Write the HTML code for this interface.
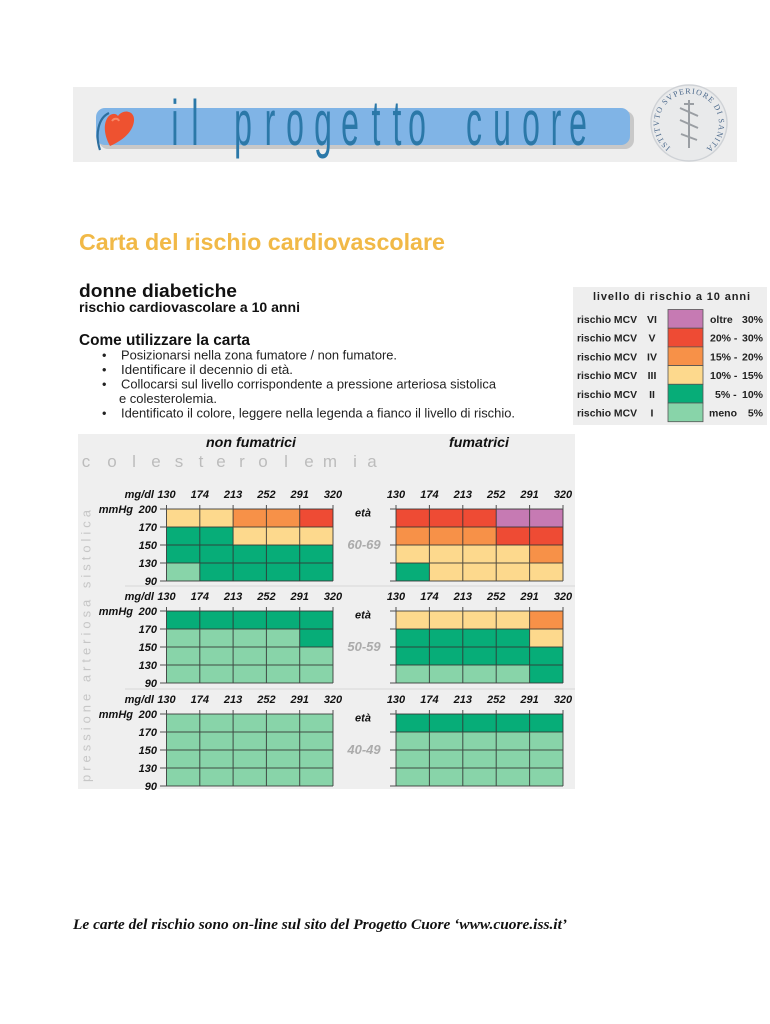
<!DOCTYPE html>
<html>
<head>
<meta charset="utf-8">
<style>
  html,body{margin:0;padding:0;background:#ffffff;}
  body{width:770px;height:1024px;overflow:hidden;}
  svg{display:block;}
  .sans{font-family:"Liberation Sans","DejaVu Sans",sans-serif;}
  .serif{font-family:"Liberation Serif","DejaVu Serif",serif;}
  .lab{font-family:"Liberation Sans",sans-serif;font-weight:bold;font-style:italic;font-size:11px;fill:#111;}
</style>
</head>
<body>
<svg width="770" height="1024" viewBox="0 0 770 1024" xmlns="http://www.w3.org/2000/svg">
  <!-- ============ BANNER ============ -->
  <rect x="73" y="87" width="664" height="75" fill="#eeeeee"/>
  <rect x="99" y="111" width="535" height="38" rx="9" fill="#a9a9a9" opacity="0.55"/>
  <rect x="96" y="108" width="534" height="37" rx="9" fill="#80b4e6"/>
  <!-- heart -->
  <path d="M109 113 C98 118 95 135 100 150" stroke="#2d6f9f" stroke-width="2.2" fill="none"/>
  <path d="M118 116 C123 109 135 110 134 121 C133 131 124 140 110 146 C104 135 103 124 108 117 C111 113 116 113 118 116 Z" fill="#ee5230"/>
  <path d="M112 121 C114 118 118 118 119 121" stroke="#f78a6a" stroke-width="2" fill="none"/>
  <!-- logo text -->
  <g class="sans" font-size="64" fill="#2b78a8" text-anchor="middle">
    <text transform="scale(0.5,1)" y="145" x="350 390 486 540 590 646 700 752 794 834 948 1004 1062 1112 1156">ilprogettocuore</text>
  </g>
  <!-- seal -->
  <circle cx="689" cy="123" r="38" fill="#e9eaeb" stroke="#cfd2d6" stroke-width="1.5"/>
  <path id="sealarc" d="M670.6 147.3 A30 30 0 1 1 707.4 147.3" fill="none"/>
  <text class="serif" font-size="8" fill="#4d6a8c"><textPath href="#sealarc" textLength="150" lengthAdjust="spacing">ISTITVTO SVPERIORE DI SANITA</textPath></text>
  <path d="M689 100 V148 M680 108 L698 116 M680 120 L698 128 M681 134 L697 140 M684 104 L694 104" stroke="#9a9ea3" stroke-width="2" fill="none"/>

  <!-- ============ TITLES ============ -->
  <text class="sans" x="79" y="250" font-size="23" font-weight="bold" fill="#f1b947" textLength="366" lengthAdjust="spacingAndGlyphs">Carta del rischio cardiovascolare</text>
  <text class="sans" x="79" y="297" font-size="18" font-weight="bold" fill="#111" textLength="158" lengthAdjust="spacingAndGlyphs">donne diabetiche</text>
  <text class="sans" x="79" y="312" font-size="14" font-weight="bold" fill="#111" textLength="221" lengthAdjust="spacingAndGlyphs">rischio cardiovascolare a 10 anni</text>
  <text class="sans" x="79" y="345" font-size="15.4" font-weight="bold" fill="#111" textLength="171" lengthAdjust="spacingAndGlyphs">Come utilizzare la carta</text>

  <g class="sans" font-size="12.7" fill="#222">
    <text x="102" y="359.5">•</text>
    <text x="121" y="359.5" textLength="276" lengthAdjust="spacingAndGlyphs">Posizionarsi nella zona fumatore / non fumatore.</text>
    <text x="102" y="374">•</text>
    <text x="121" y="374" textLength="172" lengthAdjust="spacingAndGlyphs">Identificare il decennio di età.</text>
    <text x="102" y="388.5">•</text>
    <text x="121" y="388.5" textLength="375" lengthAdjust="spacingAndGlyphs">Collocarsi sul livello corrispondente a pressione arteriosa sistolica</text>
    <text x="119" y="403" textLength="98" lengthAdjust="spacingAndGlyphs">e colesterolemia.</text>
    <text x="102" y="417.5">•</text>
    <text x="121" y="417.5" textLength="394" lengthAdjust="spacingAndGlyphs">Identificato il colore, leggere nella legenda a fianco il livello di rischio.</text>
  </g>

  <!-- ============ LEGEND ============ -->
  <rect x="573" y="287" width="194" height="138" fill="#eeeeee"/>
  <text class="sans" x="593" y="300" font-size="11" font-weight="bold" fill="#222" textLength="157" lengthAdjust="spacing">livello di rischio a 10 anni</text>
  <g stroke="#555" stroke-width="0.8">
    <rect x="668" y="309.5" width="35" height="18.7" fill="#c67ab3"/>
    <rect x="668" y="328.2" width="35" height="18.7" fill="#ee4b34"/>
    <rect x="668" y="346.9" width="35" height="18.7" fill="#f79148"/>
    <rect x="668" y="365.6" width="35" height="18.7" fill="#fdd98d"/>
    <rect x="668" y="384.3" width="35" height="18.7" fill="#07ad78"/>
    <rect x="668" y="403" width="35" height="18.7" fill="#88d4a9"/>
  </g>
  <g class="sans" font-size="10.5" font-weight="bold" fill="#222">
    <text x="577" y="323" textLength="60" lengthAdjust="spacingAndGlyphs">rischio MCV</text>
    <text x="577" y="341.7" textLength="60" lengthAdjust="spacingAndGlyphs">rischio MCV</text>
    <text x="577" y="360.4" textLength="60" lengthAdjust="spacingAndGlyphs">rischio MCV</text>
    <text x="577" y="379.1" textLength="60" lengthAdjust="spacingAndGlyphs">rischio MCV</text>
    <text x="577" y="397.8" textLength="60" lengthAdjust="spacingAndGlyphs">rischio MCV</text>
    <text x="577" y="416.5" textLength="60" lengthAdjust="spacingAndGlyphs">rischio MCV</text>
    <g text-anchor="middle">
      <text x="652" y="323">VI</text>
      <text x="652" y="341.7">V</text>
      <text x="652" y="360.4">IV</text>
      <text x="652" y="379.1">III</text>
      <text x="652" y="397.8">II</text>
      <text x="652" y="416.5">I</text>
    </g>
    <text x="710" y="323">oltre</text>
    <text x="710" y="341.7">20% -</text>
    <text x="710" y="360.4">15% -</text>
    <text x="710" y="379.1">10% -</text>
    <text x="715" y="397.8">5% -</text>
    <text x="709" y="416.5">meno</text>
    <g text-anchor="end">
      <text x="763" y="323">30%</text>
      <text x="763" y="341.7">30%</text>
      <text x="763" y="360.4">20%</text>
      <text x="763" y="379.1">15%</text>
      <text x="763" y="397.8">10%</text>
      <text x="763" y="416.5">5%</text>
    </g>
  </g>

  <!-- ============ CHART PANEL ============ -->
  <rect x="78" y="434" width="497" height="355" fill="#efefef"/>
  <text class="sans" x="206" y="447" font-size="14" font-weight="bold" font-style="italic" fill="#111" textLength="90" lengthAdjust="spacingAndGlyphs">non fumatrici</text>
  <text class="sans" x="449" y="447" font-size="14" font-weight="bold" font-style="italic" fill="#111" textLength="60" lengthAdjust="spacingAndGlyphs">fumatrici</text>
  <text class="sans" y="467" font-size="17" fill="#bcbcbc" text-anchor="middle" x="86 112 134 156 179 201 221 242 263 286 309 330 355 372">colesterolemia</text>
  <text class="sans" font-size="13" fill="#c6c6c6" transform="translate(90.5,782) rotate(-90)" x="0" y="0" textLength="272" lengthAdjust="spacing">pressione arteriosa sistolica</text>

  <!-- separators -->
  <line x1="125" y1="586" x2="575" y2="586" stroke="#d7d7d7" stroke-width="1"/>
  <line x1="125" y1="689" x2="575" y2="689" stroke="#d7d7d7" stroke-width="1"/>

  <!-- ===== Block 60-69 (T=509) ===== -->
  <g>
    <text class="lab" x="154" y="498" text-anchor="end">mg/dl</text>
    <g class="lab" text-anchor="middle">
      <text x="166.5" y="498">130</text><text x="199.8" y="498">174</text><text x="233.1" y="498">213</text><text x="266.4" y="498">252</text><text x="299.7" y="498">291</text><text x="333" y="498">320</text>
      <text x="396" y="498">130</text><text x="429.4" y="498">174</text><text x="462.8" y="498">213</text><text x="496.2" y="498">252</text><text x="529.6" y="498">291</text><text x="563" y="498">320</text>
    </g>
    <text class="lab" x="133" y="513" text-anchor="end">mmHg</text>
    <g class="lab" text-anchor="end">
      <text x="157" y="513">200</text><text x="157" y="531">170</text><text x="157" y="549">150</text><text x="157" y="567">130</text><text x="157" y="585">90</text>
    </g>
    <text class="lab" x="363" y="516.5" text-anchor="middle" font-size="10">età</text>
    <text class="sans" x="364" y="549" text-anchor="middle" font-size="13" font-weight="bold" font-style="italic" fill="#ababab">60-69</text>
  </g>
  <!-- left grid 60-69 -->
  <g transform="translate(166.5,509)">
    <rect x="0" y="0" width="33.3" height="18" fill="#fdd98d"/><rect x="33.3" y="0" width="33.3" height="18" fill="#fdd98d"/><rect x="66.6" y="0" width="33.3" height="18" fill="#f79148"/><rect x="99.9" y="0" width="33.3" height="18" fill="#f79148"/><rect x="133.2" y="0" width="33.3" height="18" fill="#ee4b34"/>
    <rect x="0" y="18" width="33.3" height="18" fill="#07ad78"/><rect x="33.3" y="18" width="33.3" height="18" fill="#07ad78"/><rect x="66.6" y="18" width="33.3" height="18" fill="#fdd98d"/><rect x="99.9" y="18" width="33.3" height="18" fill="#fdd98d"/><rect x="133.2" y="18" width="33.3" height="18" fill="#fdd98d"/>
    <rect x="0" y="36" width="166.5" height="18" fill="#07ad78"/>
    <rect x="0" y="54" width="33.3" height="18" fill="#88d4a9"/><rect x="33.3" y="54" width="133.2" height="18" fill="#07ad78"/>
    <path d="M0 -4V72M33.3 -4V72M66.6 -4V72M99.9 -4V72M133.2 -4V72M166.5 -4V72M-6.5 0H166.5M-6.5 18H166.5M-6.5 36H166.5M-6.5 54H166.5M-6.5 72H166.5" stroke="#333" stroke-width="1" fill="none" opacity="0.85"/>
  </g>
  <!-- right grid 60-69 -->
  <g transform="translate(396,509)">
    <rect x="0" y="0" width="100.2" height="18" fill="#ee4b34"/><rect x="100.2" y="0" width="66.8" height="18" fill="#c67ab3"/>
    <rect x="0" y="18" width="100.2" height="18" fill="#f79148"/><rect x="100.2" y="18" width="66.8" height="18" fill="#ee4b34"/>
    <rect x="0" y="36" width="133.6" height="18" fill="#fdd98d"/><rect x="133.6" y="36" width="33.4" height="18" fill="#f79148"/>
    <rect x="0" y="54" width="33.4" height="18" fill="#07ad78"/><rect x="33.4" y="54" width="133.6" height="18" fill="#fdd98d"/>
    <path d="M0 -4V72M33.4 -4V72M66.8 -4V72M100.2 -4V72M133.6 -4V72M167 -4V72M-6 0H167M-6 18H167M-6 36H167M-6 54H167M-6 72H167" stroke="#333" stroke-width="1" fill="none" opacity="0.85"/>
  </g>

  <!-- ===== Block 50-59 (T=611) ===== -->
  <g>
    <text class="lab" x="154" y="600" text-anchor="end">mg/dl</text>
    <g class="lab" text-anchor="middle">
      <text x="166.5" y="600">130</text><text x="199.8" y="600">174</text><text x="233.1" y="600">213</text><text x="266.4" y="600">252</text><text x="299.7" y="600">291</text><text x="333" y="600">320</text>
      <text x="396" y="600">130</text><text x="429.4" y="600">174</text><text x="462.8" y="600">213</text><text x="496.2" y="600">252</text><text x="529.6" y="600">291</text><text x="563" y="600">320</text>
    </g>
    <text class="lab" x="133" y="615" text-anchor="end">mmHg</text>
    <g class="lab" text-anchor="end">
      <text x="157" y="615">200</text><text x="157" y="633">170</text><text x="157" y="651">150</text><text x="157" y="669">130</text><text x="157" y="687">90</text>
    </g>
    <text class="lab" x="363" y="618.5" text-anchor="middle" font-size="10">età</text>
    <text class="sans" x="364" y="651" text-anchor="middle" font-size="13" font-weight="bold" font-style="italic" fill="#ababab">50-59</text>
  </g>
  <g transform="translate(166.5,611)">
    <rect x="0" y="0" width="166.5" height="18" fill="#07ad78"/>
    <rect x="0" y="18" width="133.2" height="18" fill="#88d4a9"/><rect x="133.2" y="18" width="33.3" height="18" fill="#07ad78"/>
    <rect x="0" y="36" width="166.5" height="36" fill="#88d4a9"/>
    <path d="M0 -4V72M33.3 -4V72M66.6 -4V72M99.9 -4V72M133.2 -4V72M166.5 -4V72M-6.5 0H166.5M-6.5 18H166.5M-6.5 36H166.5M-6.5 54H166.5M-6.5 72H166.5" stroke="#333" stroke-width="1" fill="none" opacity="0.85"/>
  </g>
  <g transform="translate(396,611)">
    <rect x="0" y="0" width="133.6" height="18" fill="#fdd98d"/><rect x="133.6" y="0" width="33.4" height="18" fill="#f79148"/>
    <rect x="0" y="18" width="133.6" height="18" fill="#07ad78"/><rect x="133.6" y="18" width="33.4" height="18" fill="#fdd98d"/>
    <rect x="0" y="36" width="167" height="18" fill="#07ad78"/>
    <rect x="0" y="54" width="133.6" height="18" fill="#88d4a9"/><rect x="133.6" y="54" width="33.4" height="18" fill="#07ad78"/>
    <path d="M0 -4V72M33.4 -4V72M66.8 -4V72M100.2 -4V72M133.6 -4V72M167 -4V72M-6 0H167M-6 18H167M-6 36H167M-6 54H167M-6 72H167" stroke="#333" stroke-width="1" fill="none" opacity="0.85"/>
  </g>

  <!-- ===== Block 40-49 (T=714) ===== -->
  <g>
    <text class="lab" x="154" y="703" text-anchor="end">mg/dl</text>
    <g class="lab" text-anchor="middle">
      <text x="166.5" y="703">130</text><text x="199.8" y="703">174</text><text x="233.1" y="703">213</text><text x="266.4" y="703">252</text><text x="299.7" y="703">291</text><text x="333" y="703">320</text>
      <text x="396" y="703">130</text><text x="429.4" y="703">174</text><text x="462.8" y="703">213</text><text x="496.2" y="703">252</text><text x="529.6" y="703">291</text><text x="563" y="703">320</text>
    </g>
    <text class="lab" x="133" y="718" text-anchor="end">mmHg</text>
    <g class="lab" text-anchor="end">
      <text x="157" y="718">200</text><text x="157" y="736">170</text><text x="157" y="754">150</text><text x="157" y="772">130</text><text x="157" y="790">90</text>
    </g>
    <text class="lab" x="363" y="721.5" text-anchor="middle" font-size="10">età</text>
    <text class="sans" x="364" y="754" text-anchor="middle" font-size="13" font-weight="bold" font-style="italic" fill="#ababab">40-49</text>
  </g>
  <g transform="translate(166.5,714)">
    <rect x="0" y="0" width="166.5" height="72" fill="#88d4a9"/>
    <path d="M0 -4V72M33.3 -4V72M66.6 -4V72M99.9 -4V72M133.2 -4V72M166.5 -4V72M-6.5 0H166.5M-6.5 18H166.5M-6.5 36H166.5M-6.5 54H166.5M-6.5 72H166.5" stroke="#333" stroke-width="1" fill="none" opacity="0.85"/>
  </g>
  <g transform="translate(396,714)">
    <rect x="0" y="0" width="167" height="18" fill="#07ad78"/>
    <rect x="0" y="18" width="167" height="54" fill="#88d4a9"/>
    <path d="M0 -4V72M33.4 -4V72M66.8 -4V72M100.2 -4V72M133.6 -4V72M167 -4V72M-6 0H167M-6 18H167M-6 36H167M-6 54H167M-6 72H167" stroke="#333" stroke-width="1" fill="none" opacity="0.85"/>
  </g>

  <!-- ============ FOOTER ============ -->
  <text class="serif" x="73" y="929" font-size="15" font-weight="bold" font-style="italic" fill="#111" textLength="494" lengthAdjust="spacingAndGlyphs">Le carte del rischio sono on-line sul sito del Progetto Cuore ‘www.cuore.iss.it’</text>
</svg>
</body>
</html>
